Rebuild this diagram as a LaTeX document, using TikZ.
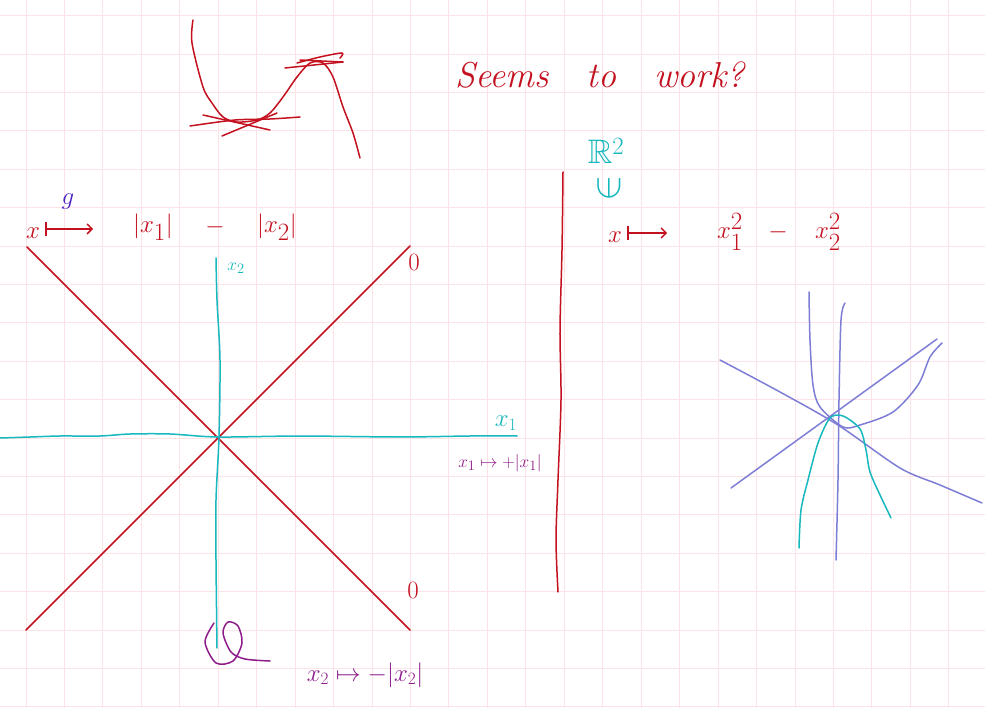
\documentclass[tikz,border=0pt]{standalone}
\usepackage{amsmath,amssymb}
\usetikzlibrary{arrows.meta, calc}
\definecolor{inkred}{HTML}{C4111F}
\definecolor{inkcyan}{HTML}{17B8BE}
\definecolor{inkplum}{HTML}{8E1C8A}
\definecolor{inklav}{HTML}{7E7ED6}
\definecolor{inkblue}{HTML}{4A22C4}
\definecolor{gridpink}{HTML}{FBE3E7}

\begin{document}
\begin{tikzpicture}[
    x=1pt, y=-1pt,
    ink/.style={line width=1.5pt, line cap=round, line join=round},
    huge/.style={font=\fontsize{36}{38}\selectfont, inner sep=0pt},
    big/.style={font=\fontsize{34}{36}\selectfont, inner sep=0pt},
    mid/.style={font=\fontsize{25}{27}\selectfont, inner sep=0pt},
    sml/.style={font=\fontsize{19}{21}\selectfont, inner sep=0pt},
    arr/.style={ink, {Bar[width=14pt]}-{Straight Barb[length=5pt,width=10pt]}},
]
\fill[white] (0,0) rectangle (985,708);
\useasboundingbox (0,0) rectangle (985,708);
% grid paper
\foreach \i in {0,...,25} \draw[gridpink, line width=1pt] ({26+38.45*\i},0) -- ++(0,708);
\foreach \j in {0,...,18} \draw[gridpink, line width=1pt] (0,{15.7+38.4*\j}) -- ++(985,0);

% sketch at the top
\draw[ink, inkred] plot[smooth] coordinates {(193,20) (192,43) (203,87) (212,103) (223,117)
    (237,122) (257,120) (270,113) (283,97) (297,77) (310,63) (323,63) (333,77) (343,107) (353,133) (360,158)};
\draw[ink, inkred] plot[smooth] coordinates {(190,126) (235,120) (270,119) (300,117)};
\draw[ink, inkred] (203,115) -- (270,130);
\draw[ink, inkred] (222,136) -- (277,113);
\draw[ink, inkred] (285,68) -- (343,62);
\draw[ink, inkred] plot[smooth] coordinates {(297,63) (320,57) (342,53) (340,58)};
\draw[ink, inkred] (300,60) -- (343,62);
\node[huge, inkred] (seems) at (600,75) {\itshape Seems\ \ \ to\ \ \ work?};

% left: the map |x1|-|x2|
\node[big, inkred] (xl) at (33,233) {$x$};
\node[big, inkred] (absa) at (153,227) {$|x_{1}|$};
\node[big, inkred] (minl) at (215,227) {$-$};
\node[big, inkred] (absb) at (277,227) {$|x_{2}|$};
\draw[arr, inkred] (xl.east) ++(5,-4) -- ++(48,0) coordinate (tipl);
\node[mid, inkblue] (gl) at (68,202) {$g$};

% axes
\coordinate (tl) at (27,247);
\coordinate (br) at (410,630);
\coordinate (tr) at (410,246);
\coordinate (bl) at (26,630);
\draw[ink, inkred] (tl) -- (br);
\draw[ink, inkred] (tr) -- (bl);
\draw[ink, inkcyan] plot[smooth] coordinates {(0,438) (30,437) (60,436) (100,436) (130,434)
    (170,434) (218,437) (300,436) (400,437) (470,436) (517,436)};
\draw[ink, inkcyan] plot[smooth] coordinates {(216,258) (217,300) (220,360) (219,437)
    (216,500) (216,560) (217,648)};
\node[sml, inkcyan] (xtwo) at (236,268) {$x_{2}$};
\node[mid, inkcyan] (xone) at (506,423) {$x_{1}$};
\node[sml, inkplum] (mapone) at (500,463) {$x_{1}\mapsto +|x_{1}|$};
\node[mid, inkred] (zerot) at (414,262) {$0$};
\node[mid, inkred] (zerob) at (413,590) {$0$};

% loop at the bottom and its label
\draw[ink, inkplum] plot[smooth] coordinates {(214,623) (205,642) (216,663) (233,661)
    (242,643) (238,626) (228,622) (223,633) (231,652) (245,659) (270,661)};
\node[mid, inkplum] (maptwo) at (365,675) {$x_{2}\mapsto -|x_{2}|$};

% divider
\draw[ink, inkred] plot[smooth] coordinates {(563,172) (562,250) (560,330) (561,400)
    (558,480) (556,540) (558,592)};

% right: the map x1^2-x2^2
\node[big, inkcyan] (rtwo) at (606,151) {$\mathbb{R}^{2}$};
\node[mid, inkcyan, rotate=90] (elem) at (609,188) {\scalebox{1.6}{$\in$}};
\node[big, inkred] (xr) at (615,237) {$x$};
\node[big, inkred] (sqa) at (730,232) {$x_{1}^{2}$};
\node[big, inkred] (minr) at (778,232) {$-$};
\node[big, inkred] (sqb) at (828,232) {$x_{2}^{2}$};
\draw[arr, inkred] (xr.east) ++(5,-4) -- ++(40,0) coordinate (tipr);

% level sets
\draw[ink, inklav] plot[smooth] coordinates {(720,360) (780,392) (838,425) (900,468)
    (940,485) (982,503)};
\draw[ink, inklav] (731,488) -- (937,339);
\draw[ink, inklav] plot[smooth] coordinates {(845,303) (841,320) (839,400) (838,480) (836,560)};
\draw[ink, inklav] plot[smooth] coordinates {(809,292) (810,340) (813,385) (820,407)
    (843,427) (860,425) (893,412) (918,385) (930,357) (942,343)};
\draw[ink, inkcyan] plot[smooth] coordinates {(799,548) (801,510) (808,480) (818,443)
    (830,418) (843,416) (860,429) (866,450) (870,472) (880,495) (891,518)};
\end{tikzpicture}
\end{document}
